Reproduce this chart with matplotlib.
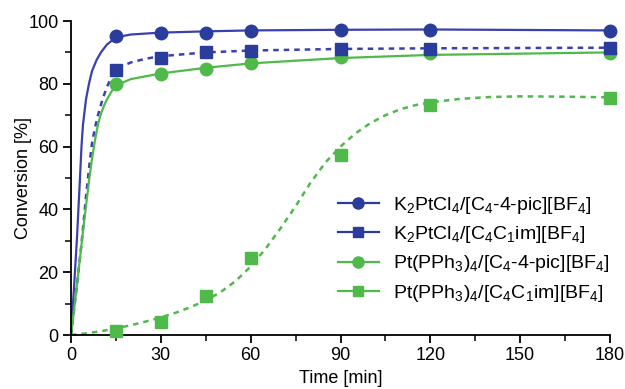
import matplotlib
matplotlib.use("Agg")
import matplotlib.pyplot as plt
from matplotlib.ticker import MultipleLocator

plt.rcParams['font.family'] = ['Liberation Sans', 'DejaVu Sans']
plt.rcParams['mathtext.default'] = 'regular'

# measured data points
t_pts = [15, 30, 45, 60, 90, 120, 180]
k2_pic = [95.2, 96.1, 96.3, 96.8, 97.0, 97.0, 96.9]
k2_im = [84.4, 88.3, 90.2, 90.3, 91.1, 91.1, 91.4]
pt_pic = [79.9, 83.1, 84.8, 86.6, 88.4, 89.7, 89.9]
pt_im = [1.4, 4.2, 12.4, 24.4, 57.4, 73.3, 75.5]

# fitted curves
fit1_t = [0, 1, 2, 3, 3.5, 4, 5, 6, 7, 8.5, 10, 12, 15, 20, 30, 45, 60, 90, 120, 180]
fit1_y = [0, 15, 31, 50, 60, 67, 75, 80, 84, 87.5, 90, 92.5, 94.8, 95.7, 96.3, 96.7, 97.0, 97.2, 97.3, 97.0]
fit2_t = [0, 2, 3.5, 5, 6, 7, 8, 9, 10.5, 12, 13.5, 15, 17, 20, 25, 30, 45, 60, 90, 120, 180]
fit2_y = [0, 16, 29, 44, 53, 61, 66, 70, 75, 79, 82, 84.4, 85.6, 86.8, 88, 88.8, 90, 90.6, 91.1, 91.3, 91.5]
fit3_t = [0, 2, 4, 5, 6, 7, 8, 9, 10, 11, 12, 13.5, 15, 20, 30, 45, 60, 90, 120, 180]
fit3_y = [0, 16, 33, 41, 49, 56, 62, 67, 70.5, 73, 75, 77.5, 79.5, 81.5, 83.3, 85.1, 86.5, 88.2, 89.2, 90.0]
fit4_t = [0, 5, 10, 15, 20, 25, 30, 35, 40, 45, 50, 55, 60, 65, 70, 75, 80, 85, 90, 95,
          100, 105, 110, 115, 120, 130, 140, 150, 165, 180]
fit4_y = [0, 0.5, 1.2, 2.1, 3.1, 4.3, 5.6, 7.1, 8.9, 11.0, 13.7, 17.2, 21.8, 27.5, 34, 41, 48.5, 55, 60, 64.2,
          67.5, 70, 71.9, 73.2, 74.1, 75.2, 75.8, 76, 75.9, 75.7]

labels = [r'K$_2$PtCl$_4$/[C$_4$-4-pic][BF$_4$]',
          r'K$_2$PtCl$_4$/[C$_4$C$_1$im][BF$_4$]',
          r'Pt(PPh$_3$)$_4$/[C$_4$-4-pic][BF$_4$]',
          r'Pt(PPh$_3$)$_4$/[C$_4$C$_1$im][BF$_4$]']

blue = '#2a3d9c'
blue_line = '#3a40ad'
green = '#4fb94a'

fig = plt.figure(figsize=(6.25, 3.89), dpi=100)
ax = fig.add_axes([71/625, 1-335/389, (610-71)/625, (335-21)/389])

ax.plot(fit1_t, fit1_y, '-', color=blue_line, lw=1.6, clip_on=False, zorder=2)
ax.plot(fit2_t, fit2_y, '--', color=blue_line, lw=1.8, dashes=(2.2, 2.0), clip_on=False, zorder=2)
ax.plot(fit3_t, fit3_y, '-', color=green, lw=1.6, clip_on=False, zorder=2)
ax.plot(fit4_t, fit4_y, '--', color=green, lw=1.8, dashes=(2.2, 2.0), clip_on=False, zorder=2)

ax.plot(t_pts, k2_pic, 'o', color=blue, ms=9, clip_on=False, zorder=4)
ax.plot(t_pts, k2_im, 's', color=blue, ms=8.5, clip_on=False, zorder=4)
ax.plot(t_pts, pt_pic, 'o', color=green, ms=9, clip_on=False, zorder=3)
ax.plot(t_pts, pt_im, 's', color=green, ms=8.5, clip_on=False, zorder=3)

# legend handles
h1, = ax.plot([], [], '-o', color=blue, ms=8, lw=1.6)
h2, = ax.plot([], [], '-s', color=blue, ms=7.5, lw=1.6)
h3, = ax.plot([], [], '-o', color=green, ms=8, lw=1.6)
h4, = ax.plot([], [], '-s', color=green, ms=7.5, lw=1.6)
ax.legend([h1, h2, h3, h4], labels, loc='lower right', bbox_to_anchor=(1.0, 0.10),
          frameon=False, fontsize=14, handlelength=2.1, handletextpad=0.75,
          labelspacing=0.42, borderaxespad=0, borderpad=0)

ax.set_xlim(0, 180)
ax.set_ylim(0, 100)
ax.spines['top'].set_visible(False)
ax.spines['right'].set_visible(False)
for s in ('left', 'bottom'):
    ax.spines[s].set_linewidth(1.3)
ax.xaxis.set_major_locator(MultipleLocator(30))
ax.xaxis.set_minor_locator(MultipleLocator(15))
ax.yaxis.set_major_locator(MultipleLocator(20))
ax.yaxis.set_minor_locator(MultipleLocator(10))
ax.tick_params(which='major', direction='out', length=6, width=1.3, labelsize=13, pad=3)
ax.tick_params(which='minor', direction='out', length=4, width=1.1)
ax.set_xlabel('Time [min]', fontsize=13, labelpad=4)
ax.set_ylabel('Conversion [%]', fontsize=13, labelpad=-3)

fig.savefig('out.png', dpi=100)
